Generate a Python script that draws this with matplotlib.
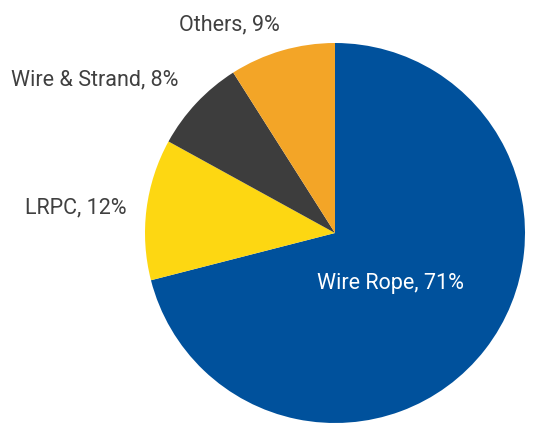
import matplotlib
matplotlib.use("Agg")
import matplotlib.pyplot as plt

categories = ["Wire Rope", "LRPC", "Wire & Strand", "Others"]
values = [71, 12, 8, 9]
colors = ["#00519C", "#FDD712", "#3D3D3D", "#F3A527"]

plt.rcParams['font.family'] = ['Roboto', 'DejaVu Sans']

W, H = 539, 432
fig = plt.figure(figsize=(W / 100, H / 100), dpi=100)
ax = fig.add_axes([0, 0, 1, 1])

cx, cy, r = 335, H - 233, 190
ax.pie(values, colors=colors, startangle=90, counterclock=False,
       center=(cx, cy), radius=r, frame=True,
       wedgeprops=dict(linewidth=0))
ax.set_xlim(0, W)
ax.set_ylim(0, H)
ax.set_aspect('equal')
ax.axis('off')

label_pos = {
    "Wire Rope": (390, 284, "white"),
    "LRPC": (76, 208, "#404040"),
    "Wire & Strand": (95, 80, "#404040"),
    "Others": (229, 25, "#404040"),
}
for cat, val in zip(categories, values):
    x, y, col = label_pos[cat]
    ax.text(x, H - y, f"{cat}, {val}%", ha='center', va='center',
            fontsize=15.5, color=col)

fig.savefig("out.png", dpi=100)
